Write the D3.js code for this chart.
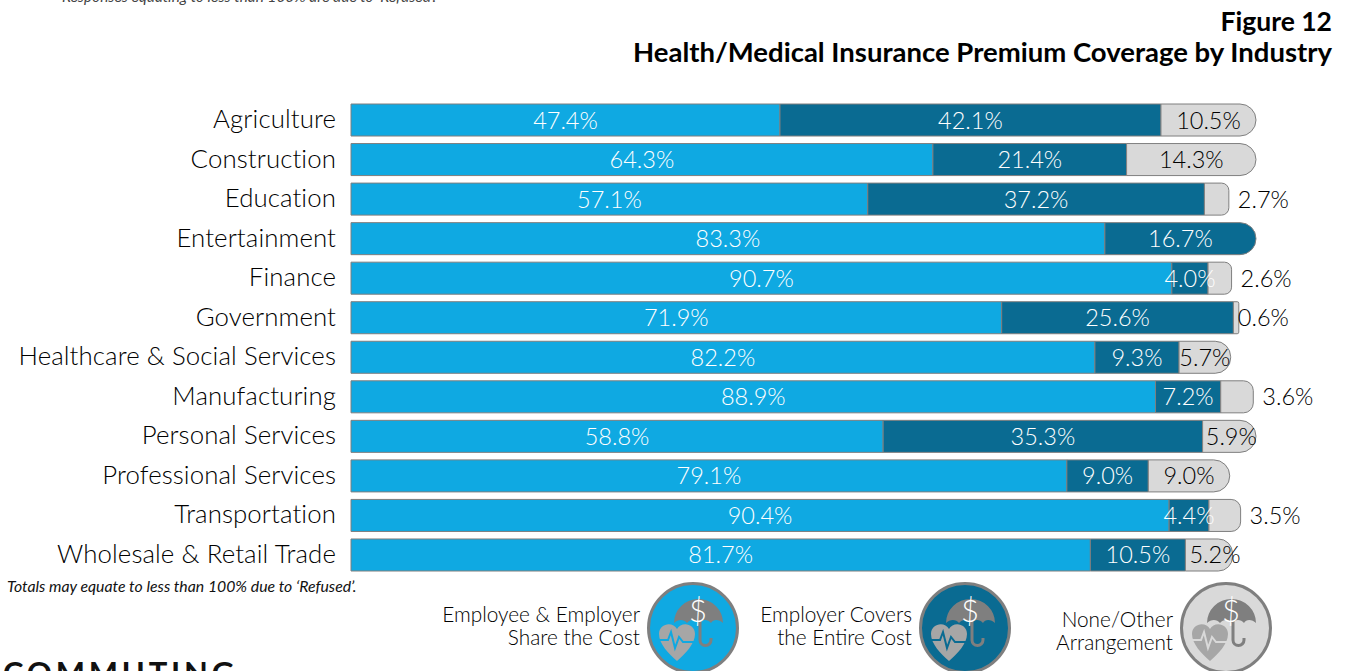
<!DOCTYPE html>
<html><head><meta charset="utf-8"><script src="https://cdn.jsdelivr.net/npm/d3@7"></script>
<style>html,body{margin:0;padding:0;background:#fff;overflow:hidden}svg{display:block}</style></head>
<body><svg id="c" width="1346" height="671"></svg>
<script>
const categories=["Agriculture","Construction","Education","Entertainment","Finance","Government","Healthcare & Social Services","Manufacturing","Personal Services","Professional Services","Transportation","Wholesale & Retail Trade"];
const shared=[47.4,64.3,57.1,83.3,90.7,71.9,82.2,88.9,58.8,79.1,90.4,81.7];
const employer=[42.1,21.4,37.2,16.7,4.0,25.6,9.3,7.2,35.3,9.0,4.4,10.5];
const none=[10.5,14.3,2.7,0,2.6,0.6,5.7,3.6,5.9,9.0,3.5,5.2];
const colors=["#0fa9e2","#0a6b92","#d9d9d9"];
const sans="'Lato',sans-serif";
const svg=d3.select("#c");
const x=d3.scaleLinear().domain([0,100]).range([351,1256]);
const y=d3.scaleBand().domain(categories).range([104,571]).paddingInner(0.19).paddingOuter(0);
const nudge={"Wholesale & Retail Trade":6,"Personal Services":2,"Government":-10};
function capsule(x0,x1,y0,h,r){
  return `M${x0},${y0}H${x1-r}A${r},${r} 0 0 1 ${x1},${y0+r}V${y0+h-r}A${r},${r} 0 0 1 ${x1-r},${y0+h}H${x0}Z`;
}
const rows=categories.map((c,i)=>({c,vals:[shared[i],employer[i],none[i]]}));
const g=svg.append("g");
rows.forEach(r=>{
  let acc=0;
  const last=r.vals[2]>0?2:1;
  r.vals.forEach((v,k)=>{
    if(v<=0)return;
    const a=x(acc),b=x(acc+v);acc+=v;
    const t=y(r.c),h=y.bandwidth();
    const rad=k===last?Math.min(h/2,(b-a)*0.3):0;
    g.append("path").attr("d",capsule(a,b,t,h,rad)).attr("fill",colors[k]).attr("stroke","#7f7f7f").attr("stroke-width",1);
  });
  acc=0;
  r.vals.forEach((v,k)=>{
    if(v<=0)return;
    const a=x(acc),b=x(acc+v);acc+=v;
    const t=y(r.c),h=y.bandwidth();
    const outside=k===2&&v<5;
    const n=k===2?(nudge[r.c]||0):0;
    const lab=g.append("text").text(v.toFixed(1)+"%").attr("y",t+h/2+8.5)
      .attr("font-family",sans).attr("font-weight",300).attr("font-size",23.5)
      .attr("fill",k===2?"#000":"#fff");
    if(outside){lab.attr("x",b+9+n).attr("text-anchor","start");}
    else{lab.attr("x",(a+b)/2+n).attr("text-anchor","middle");}
  });
  g.append("text").text(r.c).attr("x",336).attr("y",y(r.c)+y.bandwidth()/2+8).attr("text-anchor","end")
    .attr("font-family",sans).attr("font-weight",300).attr("font-size",25.8).attr("letter-spacing",0.1).attr("fill","#000");
});
const ts=svg.append("g").attr("font-family",sans).attr("font-weight",700).attr("fill","#000").attr("text-anchor","end");
ts.append("text").text("Figure 12").attr("x",1332).attr("y",31).attr("font-size",26.5);
ts.append("text").text("Health/Medical Insurance Premium Coverage by Industry").attr("x",1332).attr("y",62).attr("font-size",27.5);
svg.append("text").text("Totals may equate to less than 100% due to ‘Refused’.").attr("x",7).attr("y",592)
 .attr("font-family",sans).attr("font-style","italic").attr("font-size",15.8).attr("fill","#111");
svg.append("text").text("Responses equating to less than 100% are due to ‘Refused’.").attr("x",62).attr("y",2)
 .attr("font-family",sans).attr("font-style","italic").attr("font-size",15.4).attr("fill","#444");
svg.append("text").text("COMMUTING").attr("x",3).attr("y",684).attr("font-family",sans).attr("font-weight",700).attr("font-size",31).attr("letter-spacing",3.8).attr("fill","#111");
const legend=[{cx:693,lines:["Employee & Employer","Share the Cost"],yy:[621.5,644.5],c:0},{cx:965,lines:["Employer Covers","the Entire Cost"],yy:[621.5,644.5],c:1},{cx:1226,lines:["None/Other","Arrangement"],yy:[627,650],c:2}];
legend.forEach(l=>{
  const G=svg.append("g").attr("transform",`translate(${l.cx},628)`);
  const bg=colors[l.c];
  G.append("circle").attr("r",44.5).attr("fill",bg).attr("stroke","#7f7f7f").attr("stroke-width",3);
  G.append("path").attr("d","M-19,-5A24.5,24 0 0 1 30,-5C26,-9 20,-9 18,-5C15,-9 9,-9 6,-5C3,-9 -3,-9 -6,-5C-9,-9 -15,-9 -19,-5Z").attr("fill","#7f7f7f");
  G.append("path").attr("d","M7,-8V12A5.5,5.5 0 0 0 18,12V10").attr("fill","none").attr("stroke","#7f7f7f").attr("stroke-width",3);
  G.append("path").attr("d","M-16,33C-24,26 -34,16 -34,6C-34,-5 -20,-7 -16,1C-12,-7 2,-5 2,6C2,16 -8,26 -16,33Z").attr("fill","#a6a6a6");
  G.append("path").attr("d","M-34,12H-25L-22,4L-18,20L-14,9L-10,14H5").attr("fill","none").attr("stroke",bg).attr("stroke-width",2);
  G.append("text").text("$").attr("x",5).attr("y",-6).attr("text-anchor","middle").attr("font-family",sans).attr("font-weight",300).attr("font-size",31).attr("fill","#fff");
  l.lines.forEach((t,i)=>svg.append("text").text(t).attr("x",l.cx-53).attr("y",l.yy[i]).attr("text-anchor","end")
    .attr("font-family",sans).attr("font-weight",300).attr("font-size",20.8).attr("fill","#000"));
});
</script></body></html>
